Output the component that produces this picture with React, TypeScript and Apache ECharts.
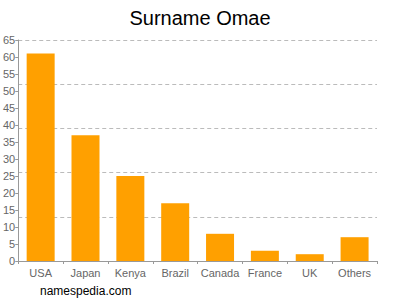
import React, { useEffect, useRef } from "react";
import * as echarts from "echarts";

const categories = ["USA", "Japan", "Kenya", "Brazil", "Canada", "France", "UK", "Others"];
const values = [61, 37, 25, 17, 8, 3, 2, 7];
const title = "Surname Omae";
const footer = "namespedia.com";

export default function App() {
  const ref = useRef<HTMLDivElement>(null);
  useEffect(() => {
    const chart = echarts.init(ref.current!, undefined, { renderer: "svg" });
    chart.setOption({
      animation: false,
      textStyle: { fontFamily: "Liberation Sans, Arial, sans-serif" },
      title: {
        text: title,
        left: "center",
        top: 3,
        textStyle: { fontSize: 20, fontWeight: "normal", color: "#000", fontFamily: "Liberation Sans, Arial, sans-serif" },
      },
      graphic: [
        {
          type: "text",
          left: 40,
          top: 285,
          style: { text: footer, fontSize: 12, fill: "#000", fontFamily: "Liberation Sans, Arial, sans-serif" },
        },
      ],
      grid: { left: 17, right: 23, top: 40, bottom: 39, containLabel: false },
      xAxis: {
        type: "category",
        data: categories,
        axisLine: { lineStyle: { color: "#999" } },
        axisTick: { show: true, lineStyle: { color: "#999" }, length: 3 },
        axisLabel: { color: "#666", fontSize: 11, margin: 6, interval: 0 },
      },
      yAxis: [
        {
          type: "value",
          min: 0,
          max: 65,
          interval: 5,
          axisLine: { show: true, lineStyle: { color: "#999" } },
          axisTick: { show: true, length: 3, lineStyle: { color: "#999" } },
          axisLabel: { color: "#666", fontSize: 11, margin: 3 },
          splitLine: { show: false },
        },
        {
          type: "value",
          min: 0,
          max: 65,
          interval: 13,
          position: "left",
          axisLine: { show: false },
          axisTick: { show: false },
          axisLabel: { show: false },
          splitLine: { show: true, lineStyle: { color: "#bbb", type: [4, 3] } },
        },
      ],
      series: [
        {
          type: "bar",
          data: values,
          yAxisIndex: 0,
          barWidth: 28,
          itemStyle: { color: "#FFA000" },
        },
      ],
    });
    return () => chart.dispose();
  }, []);
  return <div ref={ref} style={{ width: 400, height: 300, position: "absolute", left: 0, top: 0 }} />;
}
